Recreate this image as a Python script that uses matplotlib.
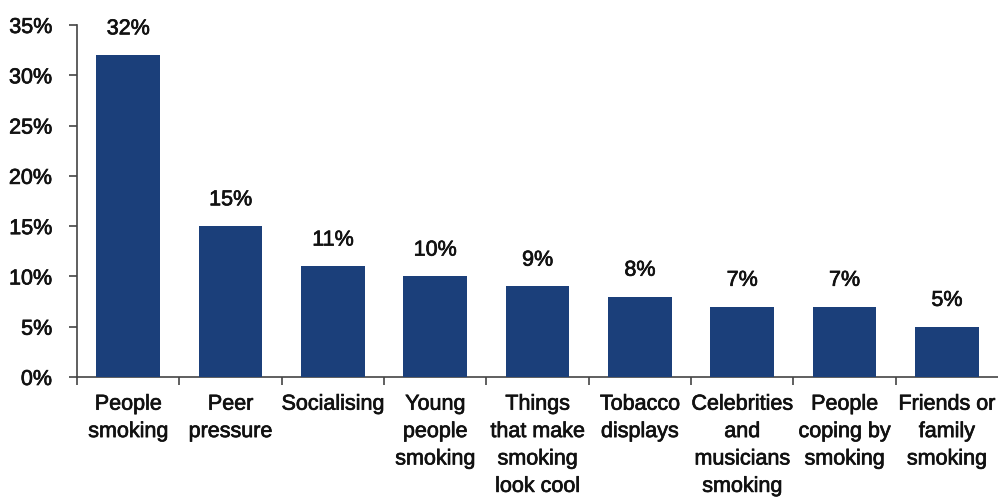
import matplotlib
matplotlib.use("Agg")
import matplotlib.pyplot as plt
import matplotlib.patheffects as pe
import numpy as np

categories = ["People\nsmoking", "Peer\npressure", "Socialising", "Young\npeople\nsmoking",
              "Things\nthat make\nsmoking\nlook cool", "Tobacco\ndisplays",
              "Celebrities\nand\nmusicians\nsmoking", "People\ncoping by\nsmoking",
              "Friends or\nfamily\nsmoking"]
values = [32, 15, 11, 10, 9, 8, 7, 7, 5]
yticks = [0, 5, 10, 15, 20, 25, 30, 35]

plt.rcParams['font.family'] = ['Liberation Sans', 'DejaVu Sans']
FS = 15.5
TXT = '#111111'
fx = [pe.withStroke(linewidth=0.5, foreground=TXT)]

fig = plt.figure(figsize=(9.98, 4.97), dpi=100)
ax = fig.add_axes([77/998, 120/497, 1 - 77/998, 352/497])

x = np.arange(len(categories))
ax.bar(x, values, width=0.62, color='#1b3f7a', zorder=3)
for xi, v in zip(x, values):
    ax.annotate(f"{v}%", (xi, v), xytext=(0, 15), textcoords='offset points',
                ha='center', va='baseline', fontsize=FS, color=TXT, path_effects=fx)

ax.set_xlim(-0.5, len(categories) - 0.5)
ax.set_ylim(0, 35)
ax.set_yticks(yticks)
ax.set_yticklabels([f"{t}%" for t in yticks], fontsize=FS, color=TXT, path_effects=fx)
ax.set_xticks(x)
ax.set_xticklabels(categories, fontsize=FS, color=TXT, linespacing=1.4, path_effects=fx)
ax.set_xticks(np.arange(len(categories)) - 0.5, minor=True)
ax.tick_params(axis='x', which='major', length=0, pad=12)
ax.tick_params(axis='x', which='minor', length=6, width=1.2, color='#444444', direction='out')
ax.tick_params(axis='y', length=6, width=1.2, color='#444444', direction='out', pad=12)

for s in ['top', 'right']:
    ax.spines[s].set_visible(False)
for s in ['left', 'bottom']:
    ax.spines[s].set_color('#444444')
    ax.spines[s].set_linewidth(1.2)

fig.savefig("out.png", dpi=100)
